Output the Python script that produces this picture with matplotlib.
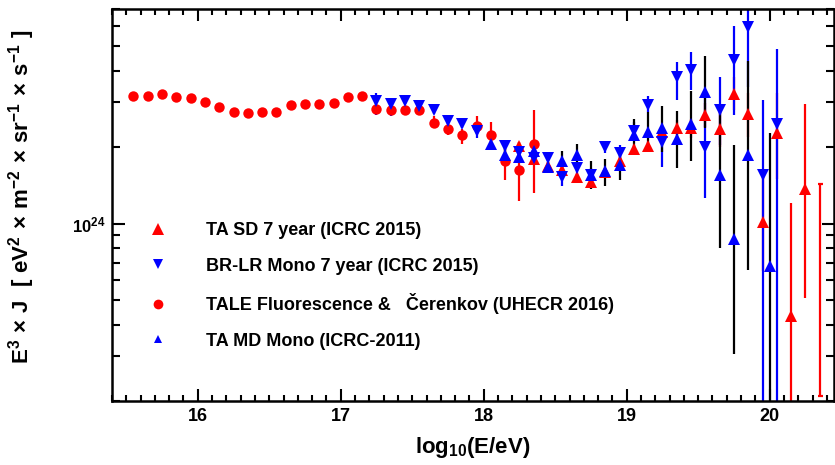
import numpy as np
import matplotlib
matplotlib.use("Agg")
import matplotlib.pyplot as plt
from matplotlib.lines import Line2D
from matplotlib.ticker import FixedLocator, MultipleLocator, NullFormatter, FixedFormatter

plt.rcParams['font.family'] = ['Liberation Sans', 'DejaVu Sans']
plt.rcParams['font.weight'] = 'bold'
plt.rcParams['mathtext.fontset'] = 'custom'
plt.rcParams['mathtext.rm'] = 'Liberation Sans:bold'
plt.rcParams['mathtext.bf'] = 'Liberation Sans:bold'
plt.rcParams['mathtext.it'] = 'Liberation Sans:bold'
plt.rcParams['mathtext.default'] = 'bf'

UNIT = 1e24  # all flux values below are in units of 1e24 eV^2 m^-2 sr^-1 s^-1

# TALE Fluorescence & Cerenkov (red circles)
tale_x = [15.55, 15.65, 15.75, 15.85, 15.95, 16.05, 16.15, 16.25, 16.35, 16.45,
          16.55, 16.65, 16.75, 16.85, 16.95, 17.05, 17.15, 17.25, 17.35, 17.45,
          17.55, 17.65, 17.75, 17.85, 17.95, 18.05, 18.15, 18.25, 18.35]
tale_y = [3.18, 3.19, 3.23, 3.16, 3.11, 3.02, 2.88, 2.76, 2.72, 2.76,
          2.76, 2.93, 2.95, 2.97, 2.99, 3.15, 3.19, 2.82, 2.80, 2.80,
          2.80, 2.49, 2.35, 2.23, 2.42, 2.24, 1.77, 1.63, 2.05]
tale_lo = [3.15, 3.16, 3.20, 3.13, 3.08, 2.99, 2.85, 2.73, 2.69, 2.73,
           2.73, 2.90, 2.92, 2.94, 2.96, 3.12, 3.16, 2.72, 2.70, 2.70,
           2.70, 2.37, 2.23, 2.05, 2.26, 2.07, 1.48, 1.23, 1.32]
tale_hi = [3.21, 3.22, 3.26, 3.19, 3.14, 3.05, 2.91, 2.79, 2.75, 2.79,
           2.79, 2.96, 2.98, 3.00, 3.02, 3.18, 3.22, 2.92, 2.90, 2.90,
           2.90, 2.65, 2.55, 2.35, 2.65, 2.51, 2.07, 2.10, 2.80]

# TA SD 7 year (red triangles)
tasd_x = [18.25, 18.35, 18.45, 18.55, 18.65, 18.75, 18.85, 18.95, 19.05, 19.15,
          19.25, 19.35, 19.45, 19.55, 19.65, 19.75, 19.85, 19.95, 20.05, 20.15, 20.25]
tasd_y = [2.02, 1.79, 1.69, 1.62, 1.52, 1.46, 1.60, 1.77, 1.96, 2.02,
          2.30, 2.37, 2.37, 2.67, 2.35, 3.24, 2.70, 1.01, 2.28, 0.433, 1.37]
tasd_lo = [1.95, 1.73, 1.63, 1.56, 1.46, 1.41, 1.54, 1.71, 1.89, 1.95,
           2.17, 2.20, 2.18, 2.39, 2.00, 2.80, 2.19, 0.652, 1.50, 0.10, 0.511]
tasd_hi = [2.09, 1.86, 1.75, 1.68, 1.57, 1.51, 1.65, 1.84, 2.03, 2.09,
           2.42, 2.55, 2.57, 2.98, 2.75, 3.77, 3.26, 1.56, 3.26, 1.21, 2.95]
# last TA SD bin: error bar only, no marker
tasd_open_x = [20.35]
tasd_open_lo = [0.209]
tasd_open_hi = [1.43]

# BR-LR Mono 7 year (blue down triangles)
brlr_x = [17.25, 17.35, 17.45, 17.55, 17.65, 17.75, 17.85, 17.95, 18.15, 18.25,
          18.35, 18.45, 18.55, 18.65, 18.75, 18.85, 18.95, 19.05, 19.15, 19.25,
          19.35, 19.45, 19.55, 19.65, 19.75, 19.85, 19.95, 20.05]
brlr_y = [3.04, 2.97, 3.04, 2.90, 2.80, 2.54, 2.46, 2.32, 2.02, 1.91,
          1.82, 1.82, 1.52, 1.65, 1.55, 2.00, 1.89, 2.32, 2.93, 2.10,
          3.77, 4.03, 2.00, 2.80, 4.41, 5.94, 1.56, 2.46]
brlr_lo = [2.67, 2.65, 2.95, 2.82, 2.70, 2.46, 2.37, 2.17, 1.93, 1.82,
           1.73, 1.73, 1.41, 1.53, 1.44, 1.89, 1.74, 2.13, 2.75, 1.67,
           3.08, 3.36, 1.26, 2.03, 2.67, 3.46, 0.10, 0.10]
brlr_hi = [3.27, 3.06, 3.15, 2.98, 2.90, 2.62, 2.55, 2.42, 2.11, 2.00,
           1.91, 1.91, 1.62, 1.74, 1.65, 2.12, 2.03, 2.51, 3.19, 2.37,
           4.32, 4.73, 3.36, 3.77, 6.01, 9.00, 3.08, 4.86]

# TA MD Mono ICRC-2011 (blue triangles, black error bars)
tamd_x = [18.05, 18.15, 18.25, 18.35, 18.45, 18.55, 18.65, 18.75, 18.85, 18.95,
          19.05, 19.15, 19.25, 19.35, 19.45, 19.55, 19.65, 19.75, 19.85, 20.0]
tamd_y = [2.05, 1.87, 1.83, 1.93, 1.67, 1.77, 1.86, 1.56, 1.61, 1.70,
          2.23, 2.30, 2.37, 2.16, 2.46, 3.30, 1.55, 0.870, 1.87, 0.682]
tamd_lo = [1.98, 1.79, 1.74, 1.76, 1.58, 1.64, 1.68, 1.37, 1.40, 1.48,
           1.94, 1.91, 1.91, 1.65, 1.76, 2.37, 0.802, 0.307, 0.656, 0.10]
tamd_hi = [2.13, 1.96, 1.94, 1.96, 1.75, 1.93, 2.05, 1.77, 1.80, 1.94,
           2.59, 2.75, 2.90, 2.78, 3.33, 4.58, 2.80, 2.03, 4.37, 2.28]

legend_labels = ['TA SD 7 year (ICRC 2015)',
                 'BR-LR Mono 7 year (ICRC 2015)',
                 'TALE Fluorescence &   \u010cerenkov (UHECR 2016)',
                 'TA MD Mono (ICRC-2011)']


def scaled(vals):
    return np.array(vals, dtype=float) * UNIT


def draw_series(ax, x, y, lo, hi, marker, mcolor, ecolor, ms):
    y = scaled(y)
    yerr = [y - scaled(lo), scaled(hi) - y]
    ax.errorbar(x, y, yerr=yerr, fmt=marker, color=mcolor, ecolor=ecolor,
                ms=ms, mew=0, elinewidth=1.6, capsize=1.8, capthick=1.6)


fig = plt.figure(figsize=(8.35, 4.65), dpi=100)
ax = fig.add_axes([112 / 835, 64 / 465, (834 - 112) / 835, (401 - 9) / 465])

draw_series(ax, tale_x, tale_y, tale_lo, tale_hi, 'o', 'red', 'red', 7.5)
draw_series(ax, tasd_x, tasd_y, tasd_lo, tasd_hi, '^', 'red', 'red', 8.5)
lo = scaled(tasd_open_lo)
ax.errorbar(tasd_open_x, lo, yerr=[np.zeros_like(lo), scaled(tasd_open_hi) - lo],
            fmt='none', ecolor='red', elinewidth=1.6, capsize=1.8, capthick=1.6)
draw_series(ax, brlr_x, brlr_y, brlr_lo, brlr_hi, 'v', 'blue', 'blue', 8.5)
draw_series(ax, tamd_x, tamd_y, tamd_lo, tamd_hi, '^', 'blue', 'black', 8.5)

ax.set_yscale('log')
ax.set_xlim(15.4, 20.45)
ax.set_ylim(2e23, 7e24)

ax.xaxis.set_major_locator(MultipleLocator(1))
ax.xaxis.set_minor_locator(MultipleLocator(0.1))
ax.yaxis.set_major_locator(FixedLocator([1e24]))
ax.yaxis.set_major_formatter(FixedFormatter([r'$10^{24}$']))
ax.yaxis.set_minor_locator(FixedLocator([k * 1e23 for k in range(2, 10)] + [k * 1e24 for k in range(2, 8)]))
ax.yaxis.set_minor_formatter(NullFormatter())

ax.tick_params(which='both', direction='in', top=True, right=True, width=1.5)
ax.tick_params(axis='x', which='major', length=8.5, labelsize=13, pad=5)
ax.tick_params(axis='x', which='minor', length=4.3)
ax.tick_params(axis='y', which='major', length=9, labelsize=12, pad=5)
ax.tick_params(axis='y', which='minor', length=5.5)
for s in ax.spines.values():
    s.set_linewidth(1.8)

ax.set_xlabel(r'$log_{10}(E/eV)$', fontsize=16, labelpad=7)
ax.set_ylabel(r'$E^{3}\,\times\,J\ \ [\ eV^{2}\,\times\,m^{-2}\,\times\,sr^{-1}\,\times\,s^{-1}\ ]$',
              fontsize=16)
ax.yaxis.set_label_coords(-75 / 722, 0.52)

handles = [Line2D([], [], ls='none', marker='^', color='red', ms=8, mew=0),
           Line2D([], [], ls='none', marker='v', color='blue', ms=7.5, mew=0),
           Line2D([], [], ls='none', marker='o', color='red', ms=7, mew=0),
           Line2D([], [], ls='none', marker='^', color='blue', ms=6, mew=0)]
ax.legend(handles, legend_labels, loc='upper left',
          bbox_to_anchor=(149 / 835, 1 - 222 / 465), bbox_transform=fig.transFigure,
          frameon=False, fontsize=13, labelspacing=1.03, handlelength=1.0,
          handletextpad=2.15, borderpad=0, borderaxespad=0)

fig.savefig('out.png', dpi=100)
